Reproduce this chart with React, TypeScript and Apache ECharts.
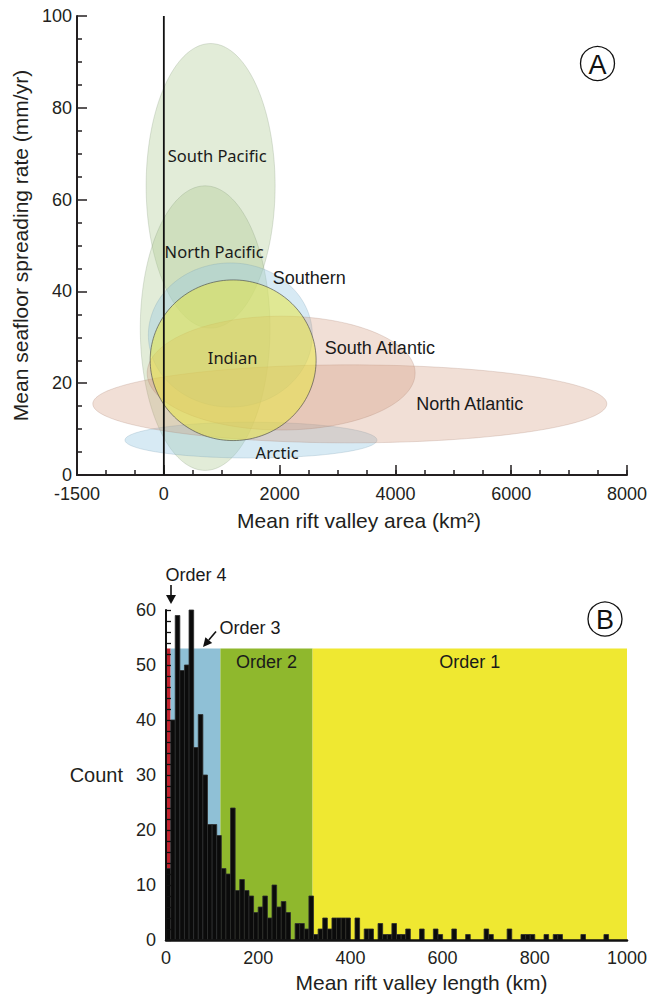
import React, { useEffect, useRef } from "react";
import * as echarts from "echarts";

// ---------- Panel A data ----------
const oceanNames = ["South Pacific", "North Pacific", "Southern", "Arctic", "North Atlantic", "South Atlantic", "Indian"];
const oceanCx = [808, 713, 1149, 1505, 3212, 2026, 1197]; // mean rift valley area (km2)
const oceanCy = [63, 32, 30.5, 7.6, 15.5, 22.2, 25]; // mean spreading rate (mm/yr)
const oceanRx = [1114, 1120, 1416, 2176, 4439, 2314, 1433];
const oceanRy = [31, 31, 15.7, 3.9, 8.5, 12.4, 17.5];
const oceanLabelX = [921, 869, 2510, 1957, 5285, 3731, 1188];
const oceanLabelY = [69.5, 48.8, 42.9, 5.0, 15.5, 27.6, 25.5];
const xTicksA = [-1500, 0, 2000, 4000, 6000, 8000];
const xMajorTicksA = [0, 2000, 4000, 6000, 8000];

// ---------- Panel B data ----------
const binWidth = 10; // km
const counts = [
  13, 40, 59, 49, 50, 60, 35, 41, 30, 21,
  21, 19, 13, 12, 24, 9, 11, 9, 8, 5,
  6, 8, 4, 10, 6, 7, 5, 0, 3, 3,
  2, 8, 1, 2, 4, 2, 4, 4, 4, 4,
  0, 4, 0, 2, 2, 0, 3, 1, 1, 3,
  1, 1, 2, 0, 0, 2, 0, 0, 2, 1,
  0, 0, 2, 0, 0, 1, 0, 0, 0, 2,
  1, 0, 0, 0, 2, 0, 0, 1, 1, 1,
  0, 0, 1, 0, 1, 1, 0, 0, 0, 0,
  1, 0, 0, 0, 0, 1, 0, 0, 0, 0,
];
const orderNames = ["Order 4", "Order 3", "Order 2", "Order 1"];
const orderStart = [0, 10, 118, 318];
const orderEnd = [10, 118, 318, 1000];
const orderTop = 53;
const orderLabelInside = [false, false, true, true];
const orderLabelY = 50.5;

// ---------- styles ----------
const HELV = '"Liberation Sans", Arial, Helvetica, sans-serif';
const MYRIAD = '"Noto Sans", "Open Sans", sans-serif';
const oceanFill = [
  "rgba(170,200,140,0.34)",
  "rgba(170,200,140,0.34)",
  "rgba(150,200,225,0.38)",
  "rgba(150,200,225,0.38)",
  "rgba(210,150,120,0.30)",
  "rgba(210,150,120,0.30)",
  "rgba(232,230,70,0.55)",
];
const oceanStroke = [
  "rgba(120,140,110,0.4)",
  "rgba(120,140,110,0.4)",
  "rgba(110,150,170,0.4)",
  "rgba(110,150,170,0.4)",
  "rgba(160,120,100,0.4)",
  "rgba(160,120,100,0.4)",
  "rgba(70,70,70,0.7)",
];
const oceanFont = [MYRIAD, MYRIAD, HELV, MYRIAD, HELV, HELV, MYRIAD];
const oceanFontSize = [16.5, 16.5, 18, 16.5, 18, 18, 16.5];
const orderColors = ["#c1232e", "#8fc0d6", "#8fb82d", "#efe831"];

export default function App() {
  const ref = useRef<HTMLDivElement>(null);

  useEffect(() => {
    if (!ref.current) return;
    const chart = echarts.init(ref.current, undefined, { renderer: "svg" });

    const ellipseData = oceanNames.map((n, i) => ({
      name: n,
      value: [oceanCx[i], oceanCy[i], oceanRx[i], oceanRy[i]],
    }));
    const labelData = oceanNames.map((n, i) => ({ name: n, value: [oceanLabelX[i], oceanLabelY[i]] }));
    const bgData = orderNames.map((n, i) => ({ name: n, value: [orderStart[i], orderEnd[i], orderTop] }));
    const barData = counts.map((c, i) => [i * binWidth, (i + 1) * binWidth, c]);

    const axisLabelStyle = { color: "#231f20", fontSize: 18, fontFamily: HELV };
    const nameStyle = { color: "#231f20", fontSize: 21, fontFamily: HELV };

    const option: any = {
      animation: false,
      backgroundColor: "#ffffff",
      grid: [
        { left: 77, top: 16, width: 550, height: 459, outerBoundsMode: "none", containLabel: false },
        { left: 166, top: 610, width: 461, height: 330, outerBoundsMode: "none", containLabel: false },
      ],
      xAxis: [
        {
          gridIndex: 0,
          type: "value",
          min: -1500,
          max: 8000,
          interval: 500,
          position: "bottom",
          axisLine: { show: true, onZero: false, lineStyle: { color: "#231f20", width: 2 } },
          axisTick: { show: true, inside: true, length: 5, lineStyle: { color: "#231f20", width: 1.5 } },
          axisLabel: {
            ...axisLabelStyle,
            margin: 10,
            formatter: (v: number) => (xTicksA.indexOf(v) >= 0 ? String(v) : ""),
          },
          splitLine: { show: false },
          name: "Mean rift valley area (km²)",
          nameLocation: "middle",
          nameGap: 35,
          nameTextStyle: { ...nameStyle, padding: [0, 0, 0, 14] },
        },
        {
          gridIndex: 0,
          type: "value",
          min: -1500,
          max: 8000,
          position: "bottom",
          axisLine: { show: false, onZero: false },
          axisTick: {
            show: true,
            inside: true,
            length: 10,
            customValues: xMajorTicksA,
            lineStyle: { color: "#231f20", width: 1.5 },
          },
          axisLabel: { show: false },
          splitLine: { show: false },
        },
        {
          gridIndex: 1,
          type: "value",
          min: 0,
          max: 1000,
          interval: 200,
          axisLine: { show: true, onZero: false, lineStyle: { color: "#111", width: 2.5 } },
          axisTick: { show: false },
          axisLabel: { ...axisLabelStyle, margin: 9, formatter: (v: number) => String(v) },
          splitLine: { show: false },
          name: "Mean rift valley length (km)",
          nameLocation: "middle",
          nameGap: 32,
          nameTextStyle: { ...nameStyle, padding: [0, 0, 0, 50] },
          z: 5,
        },
      ],
      yAxis: [
        {
          gridIndex: 0,
          type: "value",
          min: 0,
          max: 100,
          interval: 20,
          axisLine: { show: true, onZero: false, lineStyle: { color: "#231f20", width: 2 } },
          axisTick: { show: true, inside: true, length: 10, lineStyle: { color: "#231f20", width: 1.5 } },
          minorTick: { show: true, splitNumber: 4, length: 5, lineStyle: { color: "#231f20", width: 1.5 } },
          axisLabel: { ...axisLabelStyle, margin: 5 },
          splitLine: { show: false },
          name: "Mean seafloor spreading rate (mm/yr)",
          nameLocation: "middle",
          nameGap: 45,
          nameTextStyle: nameStyle,
        },
        {
          gridIndex: 1,
          type: "value",
          min: 0,
          max: 60,
          interval: 10,
          axisLine: { show: true, onZero: false, lineStyle: { color: "#111", width: 2 } },
          axisTick: { show: true, inside: true, length: 5, lineStyle: { color: "#111", width: 1.3 } },
          minorTick: { show: true, splitNumber: 5, length: 5, lineStyle: { color: "#111", width: 1.3 } },
          axisLabel: { ...axisLabelStyle, margin: 10 },
          splitLine: { show: false },
          name: "Count",
          nameLocation: "middle",
          nameRotate: 0,
          nameGap: 43,
          nameTextStyle: { ...nameStyle, fontSize: 20 },
          z: 5,
        },
      ],
      series: [
        {
          type: "custom",
          name: "oceans",
          xAxisIndex: 0,
          yAxisIndex: 0,
          z: 2,
          data: ellipseData,
          renderItem: (params: any, api: any) => {
            const i = params.dataIndex;
            const cx = api.value(0),
              cy = api.value(1),
              rx = api.value(2),
              ry = api.value(3);
            const pts: number[][] = [];
            for (let k = 0; k < 160; k++) {
              const t = (k / 160) * Math.PI * 2;
              pts.push(api.coord([cx + rx * Math.cos(t), cy + ry * Math.sin(t)]));
            }
            return {
              type: "polygon",
              shape: { points: pts },
              style: { fill: oceanFill[i], stroke: oceanStroke[i], lineWidth: i === 6 ? 0.9 : 0.6 },
            };
          },
        },
        {
          type: "line",
          name: "zero",
          xAxisIndex: 0,
          yAxisIndex: 0,
          z: 4,
          symbol: "none",
          data: [
            [0, 0],
            [0, 100],
          ],
          lineStyle: { color: "#111", width: 1.8 },
        },
        {
          type: "custom",
          name: "oceanLabels",
          xAxisIndex: 0,
          yAxisIndex: 0,
          z: 6,
          data: labelData,
          renderItem: (params: any, api: any) => {
            const i = params.dataIndex;
            const p = api.coord([api.value(0), api.value(1)]);
            return {
              type: "text",
              x: p[0],
              y: p[1],
              style: {
                text: oceanNames[i],
                fill: "#1a1a1a",
                fontSize: oceanFontSize[i],
                fontFamily: oceanFont[i],
                align: "center",
                verticalAlign: "middle",
              },
            };
          },
        },
        {
          type: "custom",
          name: "orders",
          xAxisIndex: 2,
          yAxisIndex: 1,
          z: 1,
          data: bgData,
          renderItem: (params: any, api: any) => {
            const i = params.dataIndex;
            const p0 = api.coord([api.value(0), api.value(2)]);
            const p1 = api.coord([api.value(1), 0]);
            const children: any[] = [
              {
                type: "rect",
                shape: { x: p0[0], y: p0[1], width: p1[0] - p0[0], height: p1[1] - p0[1] },
                style: { fill: orderColors[i] },
              },
            ];
            if (orderLabelInside[i]) {
              const c = api.coord([(api.value(0) + api.value(1)) / 2, orderLabelY]);
              children.push({
                type: "text",
                x: c[0],
                y: c[1],
                style: {
                  text: orderNames[i],
                  fill: "#1a1a1a",
                  fontSize: 18,
                  fontFamily: HELV,
                  align: "center",
                  verticalAlign: "middle",
                },
              });
            }
            return { type: "group", children };
          },
        },
        {
          type: "custom",
          name: "histogram",
          xAxisIndex: 2,
          yAxisIndex: 1,
          z: 3,
          data: barData,
          renderItem: (params: any, api: any) => {
            const c = api.value(2);
            if (!c) return null;
            const p0 = api.coord([api.value(0), c]);
            const p1 = api.coord([api.value(1), 0]);
            return {
              type: "rect",
              shape: { x: p0[0], y: p0[1], width: p1[0] - p0[0], height: p1[1] - p0[1] },
              style: { fill: "#0b0b0b", stroke: "#2e2e2e", lineWidth: 0.8 },
            };
          },
        },
      ],
      graphic: [
        { type: "circle", shape: { cx: 597.5, cy: 63.5, r: 17 }, style: { fill: "#fff", stroke: "#111", lineWidth: 1.3 }, z: 10 },
        {
          type: "text",
          x: 597.5,
          y: 64.5,
          style: { text: "A", fontSize: 27, fontFamily: HELV, fill: "#111", align: "center", verticalAlign: "middle" },
          z: 11,
        },
        { type: "circle", shape: { cx: 605, cy: 619, r: 17 }, style: { fill: "#fff", stroke: "#111", lineWidth: 1.3 }, z: 10 },
        {
          type: "text",
          x: 605,
          y: 620,
          style: { text: "B", fontSize: 27, fontFamily: HELV, fill: "#111", align: "center", verticalAlign: "middle" },
          z: 11,
        },
        {
          type: "text",
          x: 196,
          y: 575,
          style: { text: "Order 4", fontSize: 18, fontFamily: HELV, fill: "#1a1a1a", align: "center", verticalAlign: "middle" },
          z: 11,
        },
        { type: "line", shape: { x1: 171, y1: 585, x2: 171, y2: 597 }, style: { stroke: "#111", lineWidth: 1.6 }, z: 11 },
        { type: "polygon", shape: { points: [[166, 595], [176, 595], [171, 604]] }, style: { fill: "#111" }, z: 11 },
        {
          type: "text",
          x: 250,
          y: 628,
          style: { text: "Order 3", fontSize: 18, fontFamily: HELV, fill: "#1a1a1a", align: "center", verticalAlign: "middle" },
          z: 11,
        },
        { type: "line", shape: { x1: 216, y1: 631.5, x2: 208.8, y2: 640.1 }, style: { stroke: "#111", lineWidth: 1.6 }, z: 11 },
        { type: "polygon", shape: { points: [[203, 647], [212.2, 643.0], [205.4, 637.2]] }, style: { fill: "#111" }, z: 11 },
      ],
    };

    chart.setOption(option);
    return () => chart.dispose();
  }, []);

  return <div ref={ref} style={{ position: "fixed", left: 0, top: 0, width: 647, height: 994, background: "#fff" }} />;
}
